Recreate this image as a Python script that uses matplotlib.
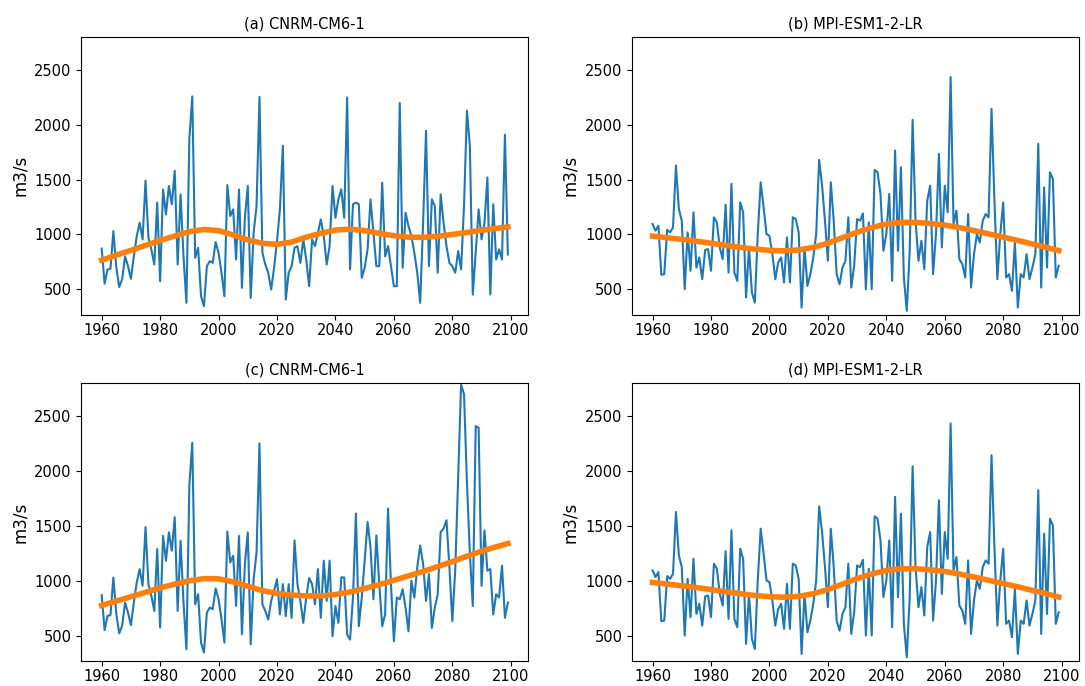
import numpy as np
import matplotlib
matplotlib.use("Agg")
import matplotlib.pyplot as plt

years = np.arange(1960, 2100)

# CNRM-CM6-1: shared historical part 1960-2014
cnrm_hist = [870, 550, 680, 686, 1030, 700, 520, 590, 800, 710,
             595, 800, 985, 1107, 955, 1490, 970, 863, 725, 1290,
             573, 1410, 1183, 1442, 1275, 1580, 725, 1365, 800, 375,
             1870, 2260, 786, 878, 436, 345, 710, 756, 740, 930,
             832, 650, 436, 1450, 1168, 1229, 771, 1410, 512, 1152,
             1442, 420, 1015, 1259, 2255]

# CNRM-CM6-1 2015-2099, panel (a)
cnrm_fut_a = [832, 725, 650, 497, 695, 940, 1229, 1810, 405, 650,
              710, 878, 893, 740, 955, 771, 527, 955, 893, 1015,
              1137, 985, 725, 893, 1442, 1152, 1320, 1412, 1152, 2250,
              680, 1275, 1290, 1275, 603, 695, 863, 1320, 1015, 710,
              710, 1473, 800, 893, 710, 527, 527, 2200, 695, 1198,
              1076, 985, 832, 650, 375, 1107, 1945, 710, 1320, 1259,
              650, 1366, 1107, 893, 740, 710, 650, 848, 680, 1259,
              2130, 1808, 451, 832, 1229, 955, 1107, 1520, 451, 1275,
              771, 863, 771, 1910, 817]

# CNRM-CM6-1 2015-2099, panel (c)
cnrm_fut_c = [785, 724, 647, 816, 908, 1015, 693, 969, 678, 969,
              662, 1368, 969, 816, 616, 847, 1025, 969, 785, 1107,
              662, 1184, 816, 1184, 493, 770, 616, 1031, 1031, 509,
              463, 847, 1614, 586, 847, 1184, 1537, 1307, 831, 1414,
              969, 586, 693, 1660, 969, 447, 847, 831, 923, 754,
              539, 1000, 847, 1123, 1322, 1154, 816, 1061, 570, 754,
              877, 1445, 1476, 1553, 1123, 632, 1100, 1950, 2790, 2704,
              1900, 1250, 770, 2412, 2397, 954, 1460, 1092, 1107, 693,
              877, 847, 1138, 662, 800]

# MPI-ESM1-2-LR 1960-2099, panels (b) and (d)
mpi = [1095, 1034, 1079, 631, 637, 1043, 1018, 1064, 1628, 1232,
       1125, 500, 1018, 668, 1201, 698, 790, 591, 857, 866,
       668, 1156, 1110, 881, 774, 1271, 652, 1461, 652, 576,
       1293, 1201, 424, 881, 469, 378, 1003, 1476, 1247, 1003,
       988, 820, 591, 744, 790, 561, 973, 561, 1156, 1140,
       1018, 332, 881, 530, 637, 790, 1003, 1680, 1450, 1125,
       760, 1476, 1125, 637, 545, 698, 759, 1156, 515, 714,
       1140, 1125, 1192, 500, 1110, 500, 1589, 1567, 1369, 851,
       1003, 1369, 576, 1766, 851, 1613, 607, 302, 851, 2046,
       1125, 759, 942, 683, 1308, 1445, 637, 1003, 1735, 881,
       1445, 1201, 2437, 1095, 1217, 774, 729, 607, 1186, 515,
       820, 1003, 927, 1125, 1186, 1156, 2147, 1308, 591, 1003,
       1293, 607, 637, 485, 927, 332, 637, 607, 820, 591,
       698, 820, 1827, 515, 1430, 698, 1567, 1506, 607, 713]

# smoothed trend, read every 5 years
trend_years = list(range(1960, 2100, 5)) + [2099]
trend_a = [765, 810, 855, 900, 945, 985, 1025, 1045, 1035, 995,
           950, 918, 910, 930, 975, 1010, 1040, 1048, 1035, 1010,
           988, 975, 973, 983, 1000, 1018, 1038, 1055, 1068]
trend_c = [775, 815, 855, 895, 935, 970, 1000, 1020, 1018, 990,
           950, 910, 885, 870, 862, 862, 875, 898, 930, 965,
           1005, 1045, 1085, 1130, 1175, 1225, 1270, 1310, 1340]
trend_mpi = [985, 970, 955, 938, 920, 900, 882, 866, 855, 850,
             858, 882, 920, 970, 1020, 1062, 1095, 1110, 1110, 1100,
             1085, 1062, 1035, 1005, 975, 945, 912, 880, 852]

titles = ["(a) CNRM-CM6-1", "(b) MPI-ESM1-2-LR", "(c) CNRM-CM6-1", "(d) MPI-ESM1-2-LR"]
series = [cnrm_hist + cnrm_fut_a, mpi, cnrm_hist + cnrm_fut_c, mpi]
trends = [trend_a, trend_mpi, trend_c, trend_mpi]

fig, axes = plt.subplots(2, 2, figsize=(10.85, 6.86), dpi=100)
fig.subplots_adjust(left=0.075, right=0.9945, bottom=0.036, top=0.9465,
                    wspace=0.233, hspace=0.245)

for ax, title, s, t in zip(axes.flat, titles, series, trends):
    ax.plot(years, s, color="#1f77b4", lw=1.5)
    ax.plot(trend_years, t, color="#ff7f0e", lw=4)
    ax.set_title(title, fontsize=10.5)
    ax.set_ylabel("m3/s", fontsize=12)
    ax.set_ylim(265, 2805)
    ax.set_yticks([500, 1000, 1500, 2000, 2500])
    ax.set_xticks([1960, 1980, 2000, 2020, 2040, 2060, 2080, 2100])
    ax.tick_params(labelsize=10.5)
    ax.tick_params(axis="x", pad=2)

fig.savefig("out.png", dpi=100)
